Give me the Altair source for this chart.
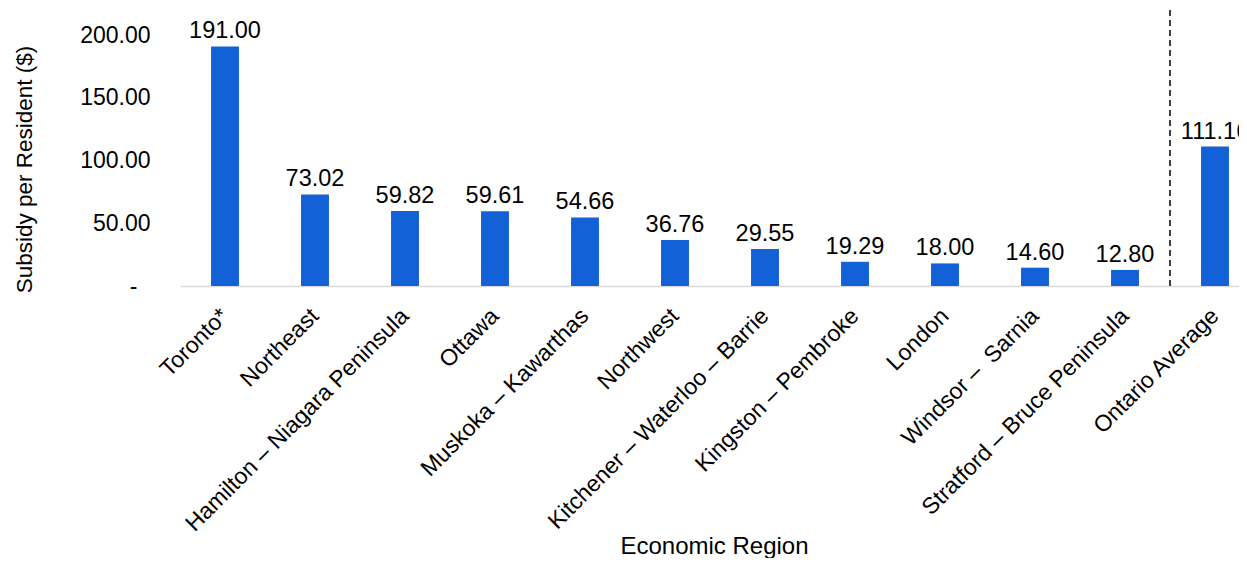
import altair as alt
import pandas as pd

regions = [
    "Toronto*", "Northeast", "Hamilton – Niagara Peninsula", "Ottawa",
    "Muskoka – Kawarthas", "Northwest", "Kitchener – Waterloo – Barrie",
    "Kingston – Pembroke", "London", "Windsor –\u00a0 Sarnia",
    "Stratford – Bruce Peninsula", "Ontario Average",
]
values = [191.00, 73.02, 59.82, 59.61, 54.66, 36.76, 29.55, 19.29, 18.00, 14.60, 12.80, 111.16]
y_ticks = [0, 50, 100, 150, 200]
separator_before = ["Ontario Average"]

df = pd.DataFrame({"region": regions, "value": values})
df["label"] = [f"{v:.2f}" for v in values]
sep = pd.DataFrame({"region": separator_before})

FONT = "Liberation Sans"
BLUE = "#1261d6"

x_enc = alt.X(
    "region:N", sort=regions,
    scale=alt.Scale(paddingInner=0.69, paddingOuter=0.345, range=[0, 1080]),
    axis=alt.Axis(
        title="Economic Region", labelAngle=-45, labelAlign="right", labelBaseline="middle",
        labelPadding=26, ticks=False, domainColor="#d9d9d9", domainWidth=1.5,
        labelFont=FONT, labelFontSize=23, labelColor="#000000",
        titleFont=FONT, titleFontSize=24, titleFontWeight="normal", titleColor="#000000",
        titleX=534, titleY=267, titleBaseline="alphabetic", titleAlign="center",
        labelLimit=500,
    ),
)
y_enc = alt.Y(
    "value:Q",
    scale=alt.Scale(domain=[0, 220], nice=False),
    axis=alt.Axis(
        title="Subsidy per Resident ($)", values=y_ticks, grid=False, domain=False, ticks=False,
        labelPadding=alt.condition("datum.value == 0", alt.value(43), alt.value(30)),
        labelExpr="datum.value == 0 ? '-' : format(datum.value, ',.2f')",
        labelFont=FONT, labelFontSize=23, labelColor="#000000",
        titleFont=FONT, titleFontSize=22.5, titleFontWeight="normal", titleColor="#000000",
        titleX=-156, titleY=159, titleAngle=-90, titleAlign="center", titleBaseline="middle",
    ),
)

bars = alt.Chart(df).mark_bar(color=BLUE).encode(x=x_enc, y=y_enc)
text = alt.Chart(df).mark_text(
    baseline="bottom", dy=-3, font=FONT, fontSize=23.5, color="#000000"
).encode(x=alt.X("region:N", sort=regions), y="value:Q", text="label:N")
rule = alt.Chart(sep).mark_rule(
    xOffset=-45, strokeDash=[6, 4], color="#000000", strokeWidth=1.5
).encode(x=alt.X("region:N", sort=regions))

chart = alt.layer(bars, text, rule).properties(
    width=1059, height=276,
    autosize=alt.AutoSizeParams(type="none"),
    padding={"left": 172, "top": 2, "right": 0, "bottom": 272},
).configure_view(strokeWidth=0)

chart.save("out.html", embed_options={"renderer": "svg", "actions": False})
